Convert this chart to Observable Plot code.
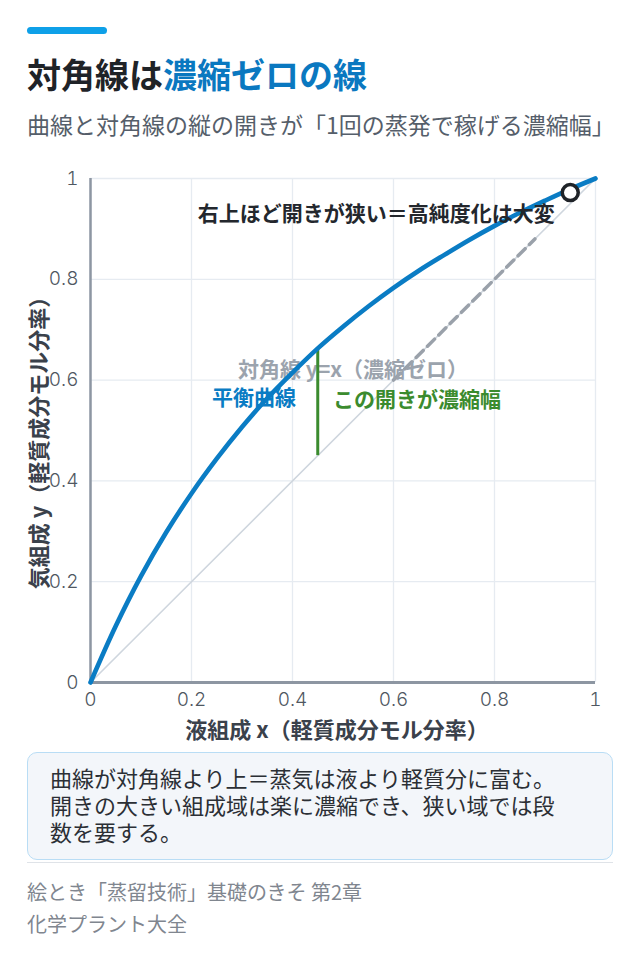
<!DOCTYPE html>
<html lang="ja"><head><meta charset="utf-8">
<script src="https://cdn.jsdelivr.net/npm/d3@7"></script>
<script src="https://cdn.jsdelivr.net/npm/@observablehq/plot@0.6"></script>
<style>
body{margin:0;background:#fff;font-family:"Noto Sans CJK JP","Noto Sans",sans-serif;}
#wrap{width:640px;padding:27px 27px 0 27px;box-sizing:border-box;}
.bar{width:80px;height:7px;border-radius:4px;background:#0ea0e8;}
h1{margin:19px 0 0;font-size:34px;line-height:42px;font-weight:700;color:#1f2328;white-space:nowrap;}
h1 span{color:#0a78c0;}
.sub{margin-top:14px;font-size:23px;line-height:30px;color:#555e6a;white-space:nowrap;}
#chart{margin:21px -27px 0;height:590px;}
#chart svg{display:block;}
.note{margin-top:2px;background:#f3f6fa;border:1.5px solid #b9ddf5;border-radius:10px;padding:11px 22px 14px;font-size:22px;line-height:27px;color:#2b2f35;white-space:nowrap;}
.rule{height:1px;background:#dfe3e8;margin-top:2px;}
.src{margin-top:13px;font-size:20px;line-height:32px;color:#80868f;}
</style></head>
<body>
<div id="wrap">
  <div class="bar"></div>
  <h1>対角線は<span>濃縮ゼロの線</span></h1>
  <div class="sub">曲線と対角線の縦の開きが「1回の蒸発で稼げる濃縮幅」</div>
  <div id="chart"></div>
  <div class="note">曲線が対角線より上＝蒸気は液より軽質分に富む。<br>開きの大きい組成域は楽に濃縮でき、狭い域では段<br>数を要する。</div>
  <div class="rule"></div>
  <div class="src">絵とき「蒸留技術」基礎のきそ 第2章<br>化学プラント大全</div>
</div>
<script>
// equilibrium curve
const curveX = [0, 0.05, 0.1, 0.15, 0.2, 0.25, 0.3, 0.35, 0.4, 0.45, 0.5, 0.55, 0.6, 0.65, 0.7, 0.75, 0.8, 0.85, 0.9, 0.95, 1];
const curveY = [0, 0.112, 0.211, 0.298, 0.375, 0.444, 0.507, 0.564, 0.615, 0.663, 0.706, 0.746, 0.783, 0.817, 0.848, 0.878, 0.906, 0.932, 0.956, 0.979, 1];
// diagonal y = x
const diagX = [0, 1];
const diagY = [0, 1];
// dashed emphasis on the diagonal
const dashX = [0.6, 0.88];
const dashY = [0.6, 0.88];
// vertical gap at x = 0.45
const gapX = [0.45];
const gapY1 = [0.45];
const gapY2 = [0.663];
// marker near the top right
const markX = [0.95];
const markY = [0.972];
// ticks
const ticks = [0, 0.2, 0.4, 0.6, 0.8, 1];
const tickLabels = ["0", "0.2", "0.4", "0.6", "0.8", "1"];
// annotation texts and their data positions
const noteTop = {text: "右上ほど開きが狭い＝高純度化は大変", x: 0.566, y: 0.93};
const noteDiag = {text: "対角線 y=x（濃縮ゼロ）", x: 0.52, y: 0.619};
const noteCurve = {text: "平衡曲線", x: 0.324, y: 0.563};
const noteGap = {text: "この開きが濃縮幅", x: 0.48, y: 0.56};
const xLabel = "液組成 x（軽質成分モル分率）";
const yLabel = "気組成 y（軽質成分モル分率）";

const curve = curveX.map((x, i) => ({x, y: curveY[i]}));
const diag = diagX.map((x, i) => ({x, y: diagY[i]}));
const dash = dashX.map((x, i) => ({x, y: dashY[i]}));
const gap = gapX.map((x, i) => ({x, y1: gapY1[i], y2: gapY2[i]}));
const mark = markX.map((x, i) => ({x, y: markY[i]}));
const fmt = d => tickLabels[ticks.indexOf(d)];
const txt = (n, fill, extra = {}) => Plot.text([n], {x: "x", y: "y", text: "text", fill, fontWeight: 700, fontSize: 21, lineAnchor: "middle", ...extra});
const tickStyle = {tickSize: 0, fontSize: 19, fill: "#4f5761", fontFamily: "Inter, Lato, sans-serif", fontWeight: 300, tickFormat: fmt, label: null};

const plot = Plot.plot({
  width: 640,
  height: 590,
  marginTop: 18,
  marginBottom: 68,
  marginLeft: 90,
  marginRight: 45,
  style: {fontFamily: "'Noto Sans CJK JP', sans-serif", background: "transparent"},
  x: {domain: [0, 1]},
  y: {domain: [0, 1]},
  marks: [
    Plot.gridX(ticks, {stroke: "#e6ebf1", strokeOpacity: 1, strokeWidth: 1.3}),
    Plot.gridY(ticks, {stroke: "#e6ebf1", strokeOpacity: 1, strokeWidth: 1.3}),
    Plot.axisX(ticks, {...tickStyle, tickPadding: 10}),
    Plot.axisY(ticks, {...tickStyle, tickPadding: 12}),
    Plot.line(diag, {x: "x", y: "y", stroke: "#cfd6de", strokeWidth: 1.6}),
    Plot.line(dash, {x: "x", y: "y", stroke: "#9aa1aa", strokeWidth: 3.5, strokeDasharray: "10,6"}),
    Plot.ruleX([0], {stroke: "#8d96a2", strokeWidth: 2.5}),
    Plot.ruleY([0], {stroke: "#8d96a2", strokeWidth: 3}),
    txt(noteDiag, "#9ba3ad", {textAnchor: "middle"}),
    Plot.ruleX(gap, {x: "x", y1: "y1", y2: "y2", stroke: "#3b8b2e", strokeWidth: 3}),
    Plot.line(curve, {x: "x", y: "y", stroke: "#0a7cc4", strokeWidth: 4.6, curve: "catmull-rom"}),
    Plot.dot(mark, {x: "x", y: "y", r: 8, fill: "white", stroke: "#1f2328", strokeWidth: 3.5}),
    txt(noteTop, "#23272d", {textAnchor: "middle"}),
    txt(noteCurve, "#0a7cc4", {textAnchor: "middle"}),
    txt(noteGap, "#3b8b2e", {textAnchor: "start"}),
    Plot.text([xLabel], {frameAnchor: "bottom", dy: 48, dx: -6, text: d => d, fill: "#3a414b", fontWeight: 700, fontSize: 22, lineAnchor: "middle", textAnchor: "middle"}),
    Plot.text([yLabel], {frameAnchor: "left", rotate: -90, dx: -51, dy: 7, text: d => d, fill: "#3a414b", fontWeight: 700, fontSize: 22, lineAnchor: "middle", textAnchor: "middle"})
  ]
});
document.getElementById("chart").appendChild(plot);
</script>
</body></html>
